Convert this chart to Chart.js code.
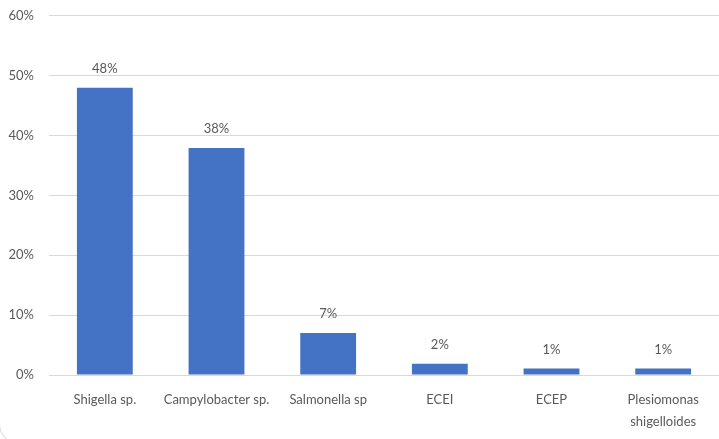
<!DOCTYPE html>
<html>
<head>
<meta charset="utf-8">
<script src="https://cdn.jsdelivr.net/npm/chart.js@4.4.1/dist/chart.umd.min.js"></script>
<style>
  html, body { margin: 0; padding: 0; background: #fff; overflow: hidden; }
  #wrap { position: relative; width: 719px; height: 439px; overflow: hidden; }
  #frame { position: absolute; left: -1px; top: -20px; width: 740px; height: 464px;
           border: 1px solid #d9d9d9; border-radius: 20px; box-sizing: border-box; }
  canvas { position: absolute; left: 0; top: -7px; }
</style>
</head>
<body>
<div id="wrap">
  <div id="frame"></div>
  <canvas id="bar" width="719" height="446"></canvas>
</div>
<script>
"use strict";
var categories = ["Shigella sp.", "Campylobacter sp.", "Salmonella sp", "ECEI", "ECEP", ["Plesiomonas", "shigelloides"]];
var shareValues = [48, 37.9, 7, 1.9, 1.1, 1.1];
var shareLabels = ["48%", "38%", "7%", "2%", "1%", "1%"];
var yTicks = [0, 10, 20, 30, 40, 50, 60];

var fontFamily = "Lato, 'DejaVu Sans Condensed', sans-serif";
var textColor = "#595959";

// labels above each bar
var barLabels = {
    id: "barLabels",
    afterDatasetsDraw: function (chart) {
        var ctx = chart.ctx;
        var meta = chart.getDatasetMeta(0);
        ctx.save();
        ctx.font = "13px " + fontFamily;
        ctx.fillStyle = textColor;
        ctx.textAlign = "center";
        ctx.textBaseline = "middle";
        meta.data.forEach(function (bar, i) {
            ctx.fillText(shareLabels[i], bar.x, bar.y - 19);
        });
        ctx.restore();
    }
};

var barChart = new Chart(document.getElementById("bar"), {
    type: "bar",
    data: {
        labels: categories,
        datasets: [{
            data: shareValues,
            backgroundColor: "#4472c4",
            borderWidth: 0,
            barPercentage: 0.5,
            categoryPercentage: 1
        }]
    },
    options: {
        responsive: false,
        animation: false,
        layout: { padding: { top: 7, right: 0, bottom: 0, left: 0 } },
        plugins: { legend: { display: false }, tooltip: { enabled: false } },
        scales: {
            x: {
                grid: { display: false, drawTicks: false },
                border: { display: true, color: "#d9d9d9", width: 1 },
                ticks: {
                    color: textColor,
                    font: { family: fontFamily, size: 13, lineHeight: 1.7 },
                    padding: 14,
                    maxRotation: 0,
                    autoSkip: false
                },
                afterFit: function (scale) { scale.height = 64; }
            },
            y: {
                min: 0,
                max: 60,
                afterBuildTicks: function (scale) {
                    scale.ticks = yTicks.map(function (v) { return { value: v }; });
                },
                grid: { color: "#d9d9d9", lineWidth: 1, drawTicks: false },
                border: { display: false },
                ticks: {
                    color: textColor,
                    font: { family: fontFamily, size: 13 },
                    padding: 15,
                    callback: function (v) { return v + "%"; }
                },
                afterFit: function (scale) { scale.width = 49; }
            }
        }
    },
    plugins: [barLabels]
});
</script>
</body>
</html>
